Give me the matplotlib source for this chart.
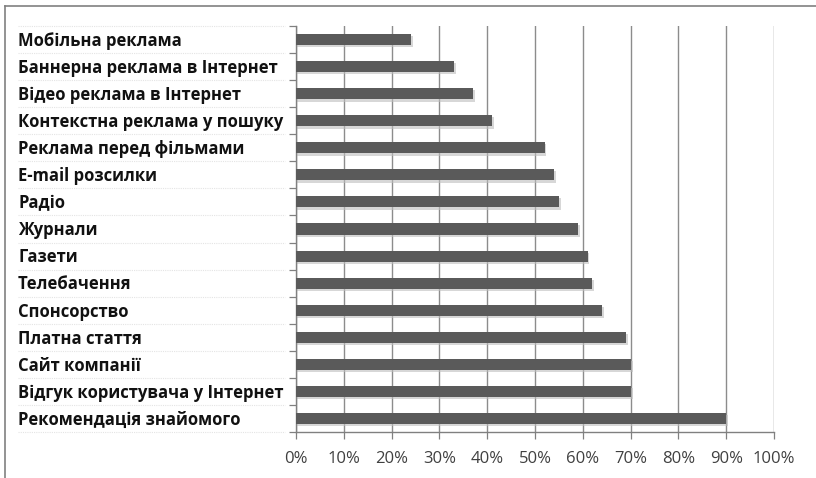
import matplotlib.pyplot as plt
import matplotlib.transforms as mtransforms
import numpy as np

# top-to-bottom order as in the picture
categories = [
    "Мобільна реклама",
    "Баннерна реклама в Інтернет",
    "Відео реклама в Інтернет",
    "Контекстна реклама у пошуку",
    "Реклама перед фільмами",
    "E-mail розсилки",
    "Радіо",
    "Журнали",
    "Газети",
    "Телебачення",
    "Спонсорство",
    "Платна стаття",
    "Сайт компанії",
    "Відгук користувача у Інтернет",
    "Рекомендація знайомого",
]
values = [24, 33, 37, 41, 52, 54, 55, 59, 61, 62, 64, 69, 70, 70, 90]
x_ticks = [0, 10, 20, 30, 40, 50, 60, 70, 80, 90, 100]
x_tick_labels = [f"{t}%" for t in x_ticks]

plt.rcParams["font.family"] = ["Open Sans", "DejaVu Sans"]

fig = plt.figure(figsize=(8.16, 4.78), dpi=100)
W, H = 816, 478
ax = fig.add_axes([296 / W, 1 - 432 / H, (774 - 296) / W, (432 - 26) / H])

n = len(categories)
ypos = np.arange(n)

# faint shadow under the bars, then the bars themselves
ax.barh(ypos + 0.08, np.array(values) + 0.4, height=0.42, color="#bdbdbd",
        alpha=0.6, zorder=2)
ax.barh(ypos, values, height=0.41, color="#5a5a5a", zorder=3)

ax.set_xlim(0, 100)
ax.set_ylim(n - 0.5, -0.5)

ax.set_xticks(x_ticks)
ax.set_xticklabels(x_tick_labels, fontsize=12, color="#404040")
ax.tick_params(axis="x", length=5, width=0.9, color="#808080", pad=9)

ax.set_yticks(np.arange(n + 1) - 0.5)
ax.set_yticklabels([])
ax.tick_params(axis="y", length=5, width=0.9, color="#808080")

ax.xaxis.grid(True, color="#8c8c8c", linewidth=1.0, zorder=1)
ax.set_axisbelow(True)
for s in ["top", "right"]:
    ax.spines[s].set_visible(False)
for s in ["left", "bottom"]:
    ax.spines[s].set_color("#808080")
    ax.spines[s].set_linewidth(1.0)

# category labels, left aligned
tr = mtransforms.blended_transform_factory(fig.transFigure, ax.transData)
for i, name in enumerate(categories):
    fig.text(18 / W, i + 0.05, name, transform=tr, ha="left", va="center",
             fontsize=12, fontweight="bold", color="#111111")
for i in range(n + 1):
    fig.add_artist(plt.Line2D([18 / W, 285 / W], [i - 0.5, i - 0.5],
                              transform=tr, color="#e4e4e4", linewidth=0.8,
                              linestyle=(0, (1, 1))))

# outer frame (only left and top edges visible in the crop)
fig.add_artist(plt.Line2D([5 / W, 5 / W], [0, 1 - 6 / H],
                          transform=fig.transFigure, color="#808080", linewidth=1.2))
fig.add_artist(plt.Line2D([5 / W, 1], [1 - 6 / H, 1 - 6 / H],
                          transform=fig.transFigure, color="#808080", linewidth=1.2))

fig.savefig("out.png", dpi=100, facecolor="white")
